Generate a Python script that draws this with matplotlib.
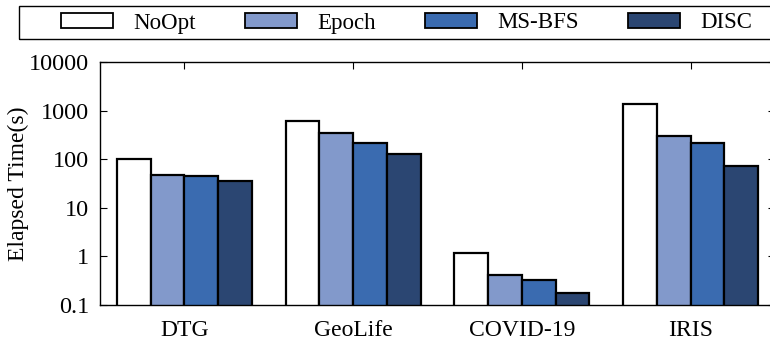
import numpy as np
import matplotlib.pyplot as plt
from matplotlib.patches import Rectangle
from matplotlib.ticker import LogLocator, FixedLocator, NullFormatter

plt.rcParams['font.family'] = ['Liberation Serif', 'DejaVu Serif']

datasets = ['DTG', 'GeoLife', 'COVID-19', 'IRIS']
methods = ['NoOpt', 'Epoch', 'MS-BFS', 'DISC']
noopt = [100, 610, 1.17, 1350]
epoch = [47, 345, 0.41, 305]
msbfs = [45, 215, 0.32, 215]
disc = [35.5, 128, 0.18, 73]
colors = ['#ffffff', '#8299cb', '#3a6bb0', '#2b4672']

fig = plt.figure(figsize=(7.7, 3.47), dpi=100)
ax = fig.add_axes([100 / 770, 1 - 305 / 347, 675 / 770, 243 / 347])

x = np.arange(len(datasets))
width = 0.2
series = [noopt, epoch, msbfs, disc]
for i, (name, vals) in enumerate(zip(methods, series)):
    ax.bar(x + (i - 1.5) * width, vals, width, label=name,
           color=colors[i], edgecolor='black', linewidth=1.6, zorder=2)

ax.set_yscale('log')
ax.set_ylim(0.1, 10000)
ax.set_xlim(-0.5, 3.5)
ax.yaxis.set_major_locator(FixedLocator([0.1, 1, 10, 100, 1000, 10000]))
ax.set_yticklabels(['0.1', '1', '10', '100', '1000', '10000'])
ax.yaxis.set_minor_locator(LogLocator(base=10, subs=(2.0, 5.0)))
ax.yaxis.set_minor_formatter(NullFormatter())
ax.set_xticks(x)
ax.set_xticklabels(datasets)
ax.tick_params(axis='both', which='both', direction='in', top=True, right=True)
ax.tick_params(axis='y', which='major', length=5, pad=8, labelsize=17.5)
ax.tick_params(axis='y', which='minor', length=3)
ax.tick_params(axis='x', which='major', length=5, pad=11, labelsize=17)
for s in ax.spines.values():
    s.set_linewidth(1.0)
ax.set_ylabel('Elapsed Time(s)', fontsize=17, labelpad=0)

# legend box runs off the right edge, so draw the frame separately
fig.patches.append(Rectangle((19 / 770, 1 - 39 / 347), 800 / 770, 33 / 347,
                             transform=fig.transFigure, fill=False,
                             edgecolor='black', linewidth=1.0))
leg = ax.legend(loc='center left', ncol=4,
                bbox_to_anchor=(61 / 770, 1 - 23 / 347),
                bbox_transform=fig.transFigure, frameon=False, fontsize=16.5,
                handlelength=2.25, handleheight=0.65, handletextpad=0.9,
                columnspacing=2.15, borderpad=0, borderaxespad=0)
for h in leg.legend_handles:
    h.set_linewidth(1.3)

fig.savefig('out.png', dpi=100)
